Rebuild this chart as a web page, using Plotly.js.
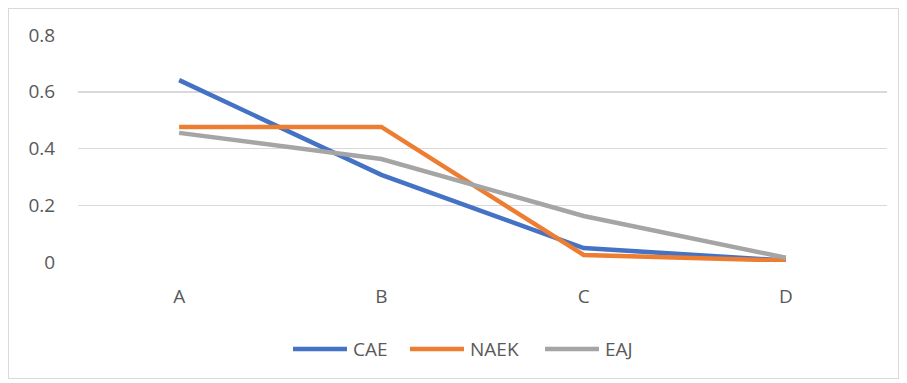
<!DOCTYPE html>
<html>
<head>
<meta charset="utf-8">
<script src="https://cdn.plot.ly/plotly-3.0.1.min.js"></script>
<style>
html,body{margin:0;padding:0;background:#fff;}
#frame{position:absolute;left:8px;top:8px;width:889px;height:369px;border:1px solid #d9d9d9;}
#chart{position:absolute;left:0;top:0;width:907px;height:383px;}
</style>
</head>
<body>
<div id="frame"></div>
<div id="chart"></div>
<script>
const categories = ['A', 'B', 'C', 'D'];
const cae = [0.641, 0.307, 0.049, 0.005];
const naek = [0.476, 0.476, 0.025, 0.005];
const eaj = [0.455, 0.363, 0.162, 0.015];
const seriesNames = ['CAE', 'NAEK', 'EAJ'];
const seriesColors = ['#4472C4', '#ED7D31', '#A5A5A5'];
const yTicks = [0, 0.2, 0.4, 0.6, 0.8];
const yTickText = ['0', '0.2', '0.4', '0.6', '0.8'];

const values = [cae, naek, eaj];
const traces = values.map((v, i) => ({
  type: 'scatter', mode: 'lines', x: categories, y: v, name: seriesNames[i],
  line: {color: seriesColors[i], width: 4.5}, showlegend: false
}));

// legend layout (pixel positions of each entry's sample line start)
const W = 907, H = 383, M = {l: 78, r: 20, t: 35, b: 121};
const pw = W - M.l - M.r, ph = H - M.t - M.b;
const legStarts = [293, 410, 545];
const legLineLen = 54;
const legY = 349;
const px2x = p => (p - M.l) / pw;
const py2y = p => (H - M.b - p) / ph;

const font = {family: 'Open Sans, Noto Sans, sans-serif', size: 19, color: '#595959'};
const shapes = [], annotations = [];
seriesNames.forEach((n, i) => {
  shapes.push({type: 'line', xref: 'paper', yref: 'paper',
    x0: px2x(legStarts[i]), x1: px2x(legStarts[i] + legLineLen), y0: py2y(legY), y1: py2y(legY),
    line: {color: seriesColors[i], width: 4.5}});
  annotations.push({xref: 'paper', yref: 'paper', x: px2x(legStarts[i] + legLineLen + 4), y: py2y(legY),
    xanchor: 'left', yanchor: 'middle', text: n, showarrow: false, font: font});
});

const layout = {
  width: W, height: H,
  margin: M,
  paper_bgcolor: 'rgba(0,0,0,0)', plot_bgcolor: 'rgba(0,0,0,0)',
  font: font,
  showlegend: false,
  shapes: shapes, annotations: annotations,
  xaxis: {
    type: 'category', range: [-0.5, 3.5], showgrid: false, zeroline: false,
    showline: false, ticks: 'outside', ticklen: 17, tickcolor: 'rgba(0,0,0,0)', tickfont: font
  },
  yaxis: {
    range: [0, 0.8], tickvals: yTicks, ticktext: yTickText, showgrid: true, gridcolor: '#d9d9d9', gridwidth: 1.5,
    zeroline: false, showline: false, ticks: 'outside', ticklen: 18, tickcolor: 'rgba(0,0,0,0)', tickfont: font
  }
};
Plotly.newPlot('chart', traces, layout, {displayModeBar: false, staticPlot: true});
</script>
</body>
</html>
